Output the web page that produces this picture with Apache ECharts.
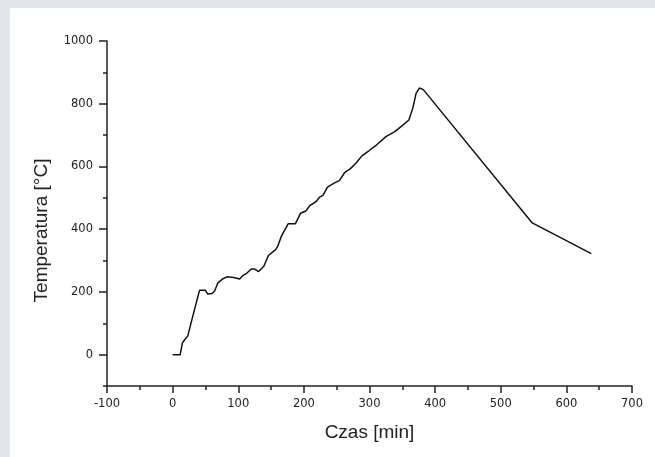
<!DOCTYPE html>
<html>
<head>
<meta charset="utf-8">
<script src="https://cdn.jsdelivr.net/npm/echarts@6/dist/echarts.min.js"></script>
<style>
  html, body { margin: 0; padding: 0; background: #e2e6e8; width: 655px; height: 457px; overflow: hidden; }
  #chart { position: absolute; left: 10px; top: 8px; width: 645px; height: 449px; background: #fff; }
</style>
</head>
<body>
<div id="chart"></div>
<script>
// Temperature vs time curve
const timeMin = [0, 11.5, 15, 19, 23, 32, 41, 50, 53.5, 60, 64, 69, 76, 83, 93, 102, 107, 112, 120, 125,
  131, 139, 146, 157, 160, 166, 176, 187, 195, 203, 209, 218, 224, 229, 236, 246, 254, 262, 271, 280,
  288, 299, 311, 325, 338, 348, 360, 366, 371, 376, 382, 548, 638]
const tempC = [0, 0, 38, 49, 59, 133, 205, 205, 193, 195, 203, 229, 241, 248, 246, 241, 252, 258, 273, 273,
  265, 282, 316, 335, 345, 379, 417, 417, 451, 458, 475, 487, 502, 508, 534, 547, 555, 580, 593, 612,
  633, 650, 669, 695, 710, 727, 748, 786, 833, 850, 845, 420, 322]

const yLabelValues = [0, 200, 400, 600, 800, 1000]

const AXIS = '#222'
const TICK_FONT = '"DejaVu Sans", Verdana, sans-serif'
const NAME_FONT = '"Liberation Sans", Arial, sans-serif'

const chart = echarts.init(document.getElementById('chart'))
chart.setOption({
  animation: false,
  grid: { left: 97, right: 23, top: 33, bottom: 71 },
  xAxis: {
    type: 'value',
    min: -100,
    max: 700,
    interval: 100,
    name: 'Czas [min]',
    nameLocation: 'middle',
    nameGap: 37,
    nameTextStyle: { fontFamily: NAME_FONT, fontSize: 19, color: '#222' },
    axisLine: { onZero: false, lineStyle: { color: AXIS, width: 1.5 } },
    axisTick: { length: 7, lineStyle: { color: AXIS, width: 1.5 } },
    minorTick: { show: true, splitNumber: 2, length: 4, lineStyle: { color: AXIS, width: 1.5 } },
    axisLabel: { margin: 12, fontFamily: TICK_FONT, fontSize: 11.5, color: '#222', formatter: v => String(v) },
    splitLine: { show: false }
  },
  yAxis: [
    {
      type: 'value',
      min: -100,
      max: 1000,
      interval: 100,
      name: 'Temperatura [°C]',
      nameLocation: 'middle',
      nameGap: 56,
      nameTextStyle: { fontFamily: NAME_FONT, fontSize: 19, color: '#222', padding: [0, 34, 0, 0] },
      axisLine: { show: true, onZero: false, lineStyle: { color: AXIS, width: 1.5 } },
      axisTick: { length: 4, lineStyle: { color: AXIS, width: 1.5 } },
      axisLabel: { customValues: yLabelValues, margin: 14, fontFamily: TICK_FONT, fontSize: 11.5, color: '#222', formatter: v => String(v) },
      splitLine: { show: false }
    },
    {
      // longer ticks at the labelled values
      type: 'value',
      position: 'left',
      min: -100,
      max: 1000,
      interval: 100,
      axisLine: { show: false, onZero: false },
      axisTick: { show: true, customValues: yLabelValues, length: 8, lineStyle: { color: AXIS, width: 1.5 } },
      axisLabel: { show: false },
      splitLine: { show: false }
    }
  ],
  series: [{
    type: 'line',
    data: timeMin.map((t, i) => [t, tempC[i]]),
    showSymbol: false,
    symbol: 'none',
    lineStyle: { color: '#111', width: 1.5 }
  }]
})
</script>
</body>
</html>
